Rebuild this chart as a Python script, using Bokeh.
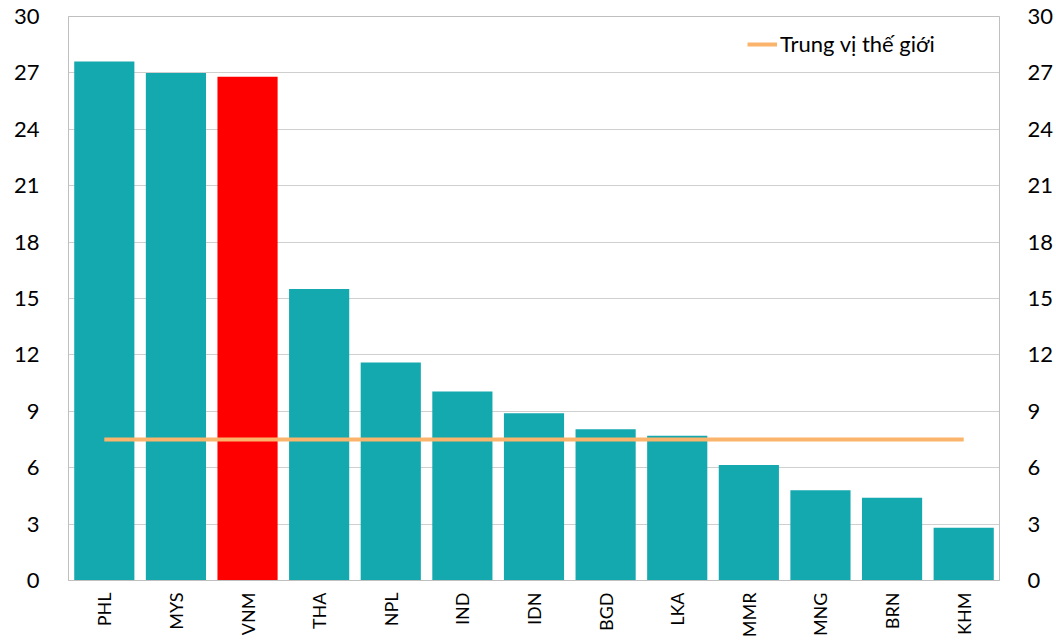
from bokeh.plotting import figure
from bokeh.models import (FactorRange, Range1d, LinearAxis, FixedTicker, Legend,
                          LegendItem, ColumnDataSource)
from bokeh.embed import file_html
from bokeh.resources import INLINE

categories = ["PHL", "MYS", "VNM", "THA", "NPL", "IND", "IDN", "BGD", "LKA", "MMR", "MNG", "BRN", "KHM"]
values = [27.6, 27.0, 26.8, 15.5, 11.6, 10.05, 8.9, 8.05, 7.7, 6.15, 4.8, 4.4, 2.8]
highlight = "VNM"
world_median = [7.5] * len(categories)
median_label = "Trung vị thế giới"
y_ticks = list(range(0, 31, 3))

TEAL = "#14A8AF"
RED = "#FF0000"
ORANGE = "#FBB46B"
FONT = "Lato"
FS = "22px"
FSX = "18px"

colors = [RED if c == highlight else TEAL for c in categories]
src = ColumnDataSource(dict(cat=categories, val=values, color=colors))

p = figure(x_range=FactorRange(*categories, range_padding=0), y_range=Range1d(0, 30),
           width=1056, height=640, output_backend="svg", toolbar_location=None,
           min_border_left=68, min_border_right=57, min_border_top=16, min_border_bottom=60)

p.vbar(x="cat", top="val", width=0.84, color="color", line_color=None, source=src)
med = p.line(categories, world_median, line_color=ORANGE, line_width=4)

p.outline_line_color = "#BFBFBF"
p.outline_line_width = 1
p.xgrid.grid_line_color = None
p.ygrid.grid_line_color = "#CFCFCF"
p.ygrid.ticker = FixedTicker(ticks=y_ticks)

p.yaxis.ticker = FixedTicker(ticks=y_ticks)
p.yaxis.axis_line_color = "#BFBFBF"
p.yaxis.major_tick_line_color = None
p.yaxis.minor_tick_line_color = None
p.yaxis.major_label_standoff = 23
p.yaxis.major_label_text_font = FONT
p.yaxis.major_label_text_font_size = FS
p.yaxis.major_label_text_color = "#000000"

ry = LinearAxis(ticker=FixedTicker(ticks=y_ticks))
ry.axis_line_color = "#BFBFBF"
ry.major_tick_line_color = None
ry.minor_tick_line_color = None
ry.major_label_standoff = 22
ry.major_label_text_font = FONT
ry.major_label_text_font_size = FS
ry.major_label_text_color = "#000000"
p.add_layout(ry, "right")

p.xaxis.axis_line_color = "#BFBFBF"
p.xaxis.major_tick_line_color = None
p.xaxis.minor_tick_line_color = None
p.xaxis.major_label_orientation = 1.5708
p.xaxis.major_label_standoff = 6
p.xaxis.major_label_text_font = FONT
p.xaxis.major_label_text_font_size = FSX
p.xaxis.major_label_text_color = "#000000"

legend = Legend(items=[LegendItem(label=median_label, renderers=[med])],
                location=(679, 523), border_line_color=None, background_fill_alpha=0,
                padding=0, margin=0, glyph_width=30, glyph_height=20, label_standoff=3,
                label_text_font=FONT, label_text_font_size=FS, label_text_color="#000000")
p.add_layout(legend)

open("out.html", "w").write(file_html(p, INLINE))
